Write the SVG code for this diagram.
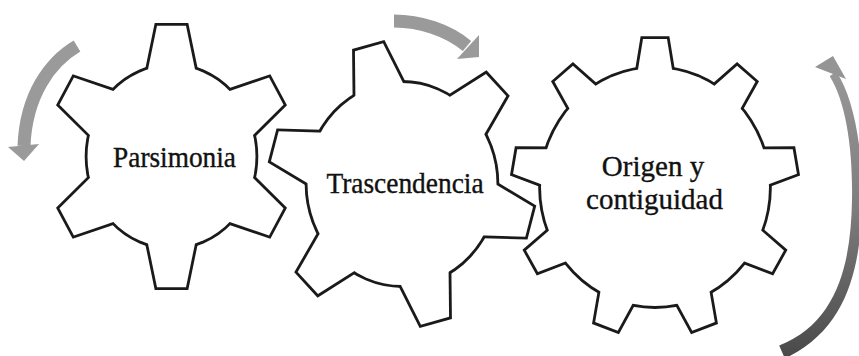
<svg xmlns="http://www.w3.org/2000/svg" xmlns:xlink="http://www.w3.org/1999/xlink" width="859" height="356" viewBox="0 0 859 356">
<defs>
<style>
.outline{fill:#fff;stroke:#1a1a1a;stroke-width:5.6;stroke-linejoin:miter}
.fill{fill:#fff;stroke:none}
.lbl{font-family:"Liberation Serif","Times New Roman",serif;fill:#111;stroke:#111;stroke-width:0.35;text-anchor:middle}
.arr{fill:none;stroke:#9a9a9a;stroke-width:13;stroke-linecap:butt}
.head{fill:#9a9a9a}
</style>
<linearGradient id="g3grad" gradientUnits="userSpaceOnUse" x1="0" y1="60" x2="0" y2="356">
<stop offset="0" stop-color="#9a9a9a"/>
<stop offset="0.5" stop-color="#7d7d7d"/>
<stop offset="1" stop-color="#4a4a4a"/>
</linearGradient>
<polygon id="t1" points="-26.3,-68 -14.5,-121 14.5,-121 26.3,-68" vector-effect="non-scaling-stroke"/>
<polygon id="t2" points="-27.8,-78 -14.5,-132 14.5,-132 27.8,-78" vector-effect="non-scaling-stroke"/>
<polygon id="t3" points="-19.2,-100 -12,-142 12,-142 19.2,-100" vector-effect="non-scaling-stroke"/>
<g id="shape1">
<circle r="84" vector-effect="non-scaling-stroke"/>
<use xlink:href="#t1"/>
<use xlink:href="#t1" transform="rotate(60)"/>
<use xlink:href="#t1" transform="rotate(120)"/>
<use xlink:href="#t1" transform="rotate(180)"/>
<use xlink:href="#t1" transform="rotate(240)"/>
<use xlink:href="#t1" transform="rotate(300)"/>
</g>
<g id="shape2">
<circle r="94.5" vector-effect="non-scaling-stroke"/>
<use xlink:href="#t2" transform="rotate(-14.5)"/>
<use xlink:href="#t2" transform="rotate(45.5)"/>
<use xlink:href="#t2" transform="rotate(105.5)"/>
<use xlink:href="#t2" transform="rotate(165.5)"/>
<use xlink:href="#t2" transform="rotate(225.5)"/>
<use xlink:href="#t2" transform="rotate(285.5)"/>
</g>
<g id="shape3">
<circle r="114" vector-effect="non-scaling-stroke"/>
<use xlink:href="#t3"/>
<use xlink:href="#t3" transform="rotate(40)"/>
<use xlink:href="#t3" transform="rotate(80)"/>
<use xlink:href="#t3" transform="rotate(120)"/>
<use xlink:href="#t3" transform="rotate(160)"/>
<use xlink:href="#t3" transform="rotate(200)"/>
<use xlink:href="#t3" transform="rotate(240)"/>
<use xlink:href="#t3" transform="rotate(280)"/>
<use xlink:href="#t3" transform="rotate(320)"/>
</g>
</defs>
<rect width="859" height="356" fill="#fff"/>

<g id="gear-parsimonia" transform="translate(171.5,156.5) scale(1,1.08)">
<use xlink:href="#shape1" class="outline"/>
<use xlink:href="#shape1" class="fill"/>
<text class="lbl" x="3" y="9.5" font-size="27.3">Parsimonia</text>
</g>

<g id="gear-trascendencia" transform="translate(402,184) scale(1,1.07)">
<use xlink:href="#shape2" class="outline"/>
<use xlink:href="#shape2" class="fill"/>
<text class="lbl" x="3" y="8.2" font-size="27.4">Trascendencia</text>
</g>

<g id="gear-origen" transform="translate(655,187.2) scale(1,1.043)">
<use xlink:href="#shape3" class="outline"/>
<use xlink:href="#shape3" class="fill"/>
<text class="lbl" x="-2" y="-10.7" font-size="29">Origen y</text>
<text class="lbl" x="-0.5" y="20.9" font-size="29">contiguidad</text>
</g>

<g id="arrows">
<path class="arr" d="M77,46 C50,62 26,95 24,146"/>
<polygon class="head" points="8,147 39,144 24,161"/>
<path class="arr" d="M394,21 C420,21 448,30 467,46"/>
<polygon class="head" points="479,35 457,59 479,57"/>
<path fill="url(#g3grad)" d="M836.3,71.8 C854,98 863,150 862,200 C861,260 851,328 784.8,358.4 L779.2,345.6 C839,322 851,260 852,200 C853,150 846,102 829.7,76.2 Z"/>
<polygon fill="#959595" points="833,56 815,67 846,79"/>
</g>
</svg>
